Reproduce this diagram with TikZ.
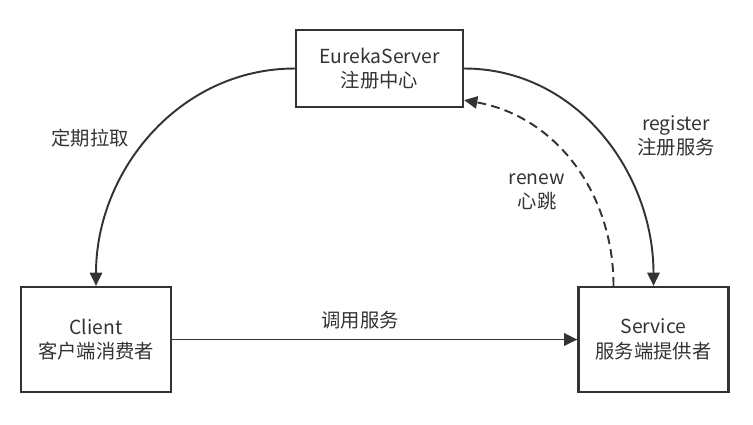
\documentclass[tikz,border=0pt]{standalone}
\usepackage{fontspec}
\setmainfont{Noto Sans CJK SC}
\usepackage{xcolor}
\usetikzlibrary{arrows.meta}
\definecolor{ink}{HTML}{333333}

\begin{document}
\begin{tikzpicture}[x=0.02cm, y=-0.02cm,
  font=\fontsize{11}{14}\selectfont, text=ink,
  box/.style={draw=ink, line width=1.3pt, align=center, inner sep=0pt},
  flow/.style={draw=ink, line width=1.1pt, -{Triangle[length=7.5pt,width=7pt]}},
  lbl/.style={align=center, inner sep=1pt}]
\useasboundingbox (0,0) rectangle (753,424);
\node[box, minimum width=3.34cm, minimum height=1.54cm] (eur) at (379.5, 68.5) {EurekaServer\\注册中心}; % server
\node[box, minimum width=3.0cm, minimum height=2.1cm] (cli) at (96, 339.5) {Client\\客户端消费者}; % consumer
\node[box, minimum width=3.0cm, minimum height=2.1cm] (svc) at (653.5, 339.5) {Service\\服务端提供者}; % provider
\draw[flow] (eur.west) to[out=180, in=90] (cli.north);
\draw[flow] (eur.east) to[out=0, in=90] (svc.north);
\draw[flow, dash pattern=on 5pt off 3pt] ([xshift=-0.8cm]svc.north) to[out=90, in=-10] ([yshift=0.16cm]eur.south east);
\draw[flow] (cli) -- (svc);
\node[lbl] (pull) at (90, 138) {定期拉取};
\node[lbl] (reg) at (676, 136) {register\\注册服务};
\node[lbl] (beat) at (537, 192) {renew\\心跳};
\node[lbl] (call) at (360, 320) {调用服务};
\end{tikzpicture}
\end{document}
